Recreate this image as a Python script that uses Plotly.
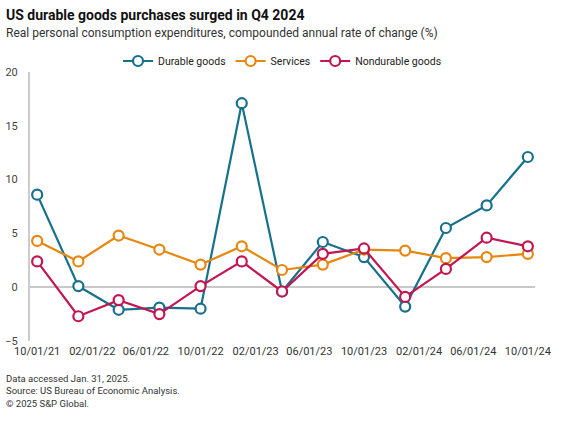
import plotly.graph_objects as go

dates = ["2021-10-01", "2022-01-01", "2022-04-01", "2022-07-01", "2022-10-01",
         "2023-01-01", "2023-04-01", "2023-07-01", "2023-10-01", "2024-01-01",
         "2024-04-01", "2024-07-01", "2024-10-01"]
durable = [8.6, 0.1, -2.1, -1.9, -2.0, 17.1, -0.4, 4.2, 2.8, -1.8, 5.5, 7.6, 12.1]
services = [4.3, 2.4, 4.8, 3.5, 2.1, 3.8, 1.6, 2.1, 3.5, 3.4, 2.7, 2.8, 3.1]
nondurable = [2.4, -2.7, -1.2, -2.5, 0.1, 2.4, -0.4, 3.1, 3.6, -0.9, 1.7, 4.6, 3.8]

series = [("Durable goods", durable, "#17708c"),
          ("Services", services, "#e8870f"),
          ("Nondurable goods", nondurable, "#c3154f")]

font_family = "Roboto, 'Noto Sans', Arial, sans-serif"

W, H = 568, 421
L, R, T, B = 30, 33, 72, 80
plot_h = H - T - B
plot_w = W - L - R
def py(pix):
    return (H - B - pix) / plot_h
def px(pix):
    return (pix - L) / plot_w

fig = go.Figure()
for name, vals, color in series:
    fig.add_trace(go.Scatter(
        x=dates, y=vals, name=name, mode="lines+markers",
        line=dict(color=color, width=2.2),
        marker=dict(symbol="circle", size=10, color="white",
                    line=dict(color=color, width=2.2)),
    ))

fig.update_layout(
    width=W, height=H,
    margin=dict(l=L, r=R, t=T, b=B),
    paper_bgcolor="white", plot_bgcolor="white",
    font=dict(family=font_family, color="#333333", size=11),
    showlegend=True,
    legend=dict(orientation="h", x=0.5, xanchor="center", y=py(61), yanchor="middle",
                font=dict(size=10.5, color="#222222"), itemwidth=30,
                bgcolor="rgba(0,0,0,0)", borderwidth=0),
    xaxis=dict(type="date", range=["2021-09-15", "2024-10-17"],
               tick0="2021-10-01", dtick="M4", tickformat="%m/%d/%y",
               showgrid=False, showline=False, zeroline=False, ticks="",
               tickfont=dict(size=11, color="#333333"), ticklabelstandoff=2,
               automargin=False),
    yaxis=dict(range=[-5, 20], dtick=5, showgrid=False,
               showline=True, linecolor="#cccccc", linewidth=2,
               zeroline=True, zerolinecolor="#c8c8c8", zerolinewidth=1.5,
               ticks="", tickfont=dict(size=11, color="#444444"),
               ticklabelstandoff=8, automargin=False),
    annotations=[
        dict(text="<b>US durable goods purchases surged in Q4 2024</b>",
             xref="paper", yref="paper", x=px(4), y=py(15), xanchor="left", yanchor="middle",
             showarrow=False, font=dict(size=14, color="#111111")),
        dict(text="Real personal consumption expenditures, compounded annual rate of change (%)",
             xref="paper", yref="paper", x=px(4), y=py(33), xanchor="left", yanchor="middle",
             showarrow=False, font=dict(size=12, color="#333333")),
        dict(text="Data accessed Jan. 31, 2025.<br>Source: US Bureau of Economic Analysis.<br>© 2025 S&P Global.",
             xref="paper", yref="paper", x=px(4), y=py(371), xanchor="left", yanchor="top",
             align="left", showarrow=False, font=dict(size=9.5, color="#333333")),
    ],
)

fig.write_html("out.html", config={"displayModeBar": False},
               post_script="document.body.style.margin='0';document.body.style.padding='0';")
